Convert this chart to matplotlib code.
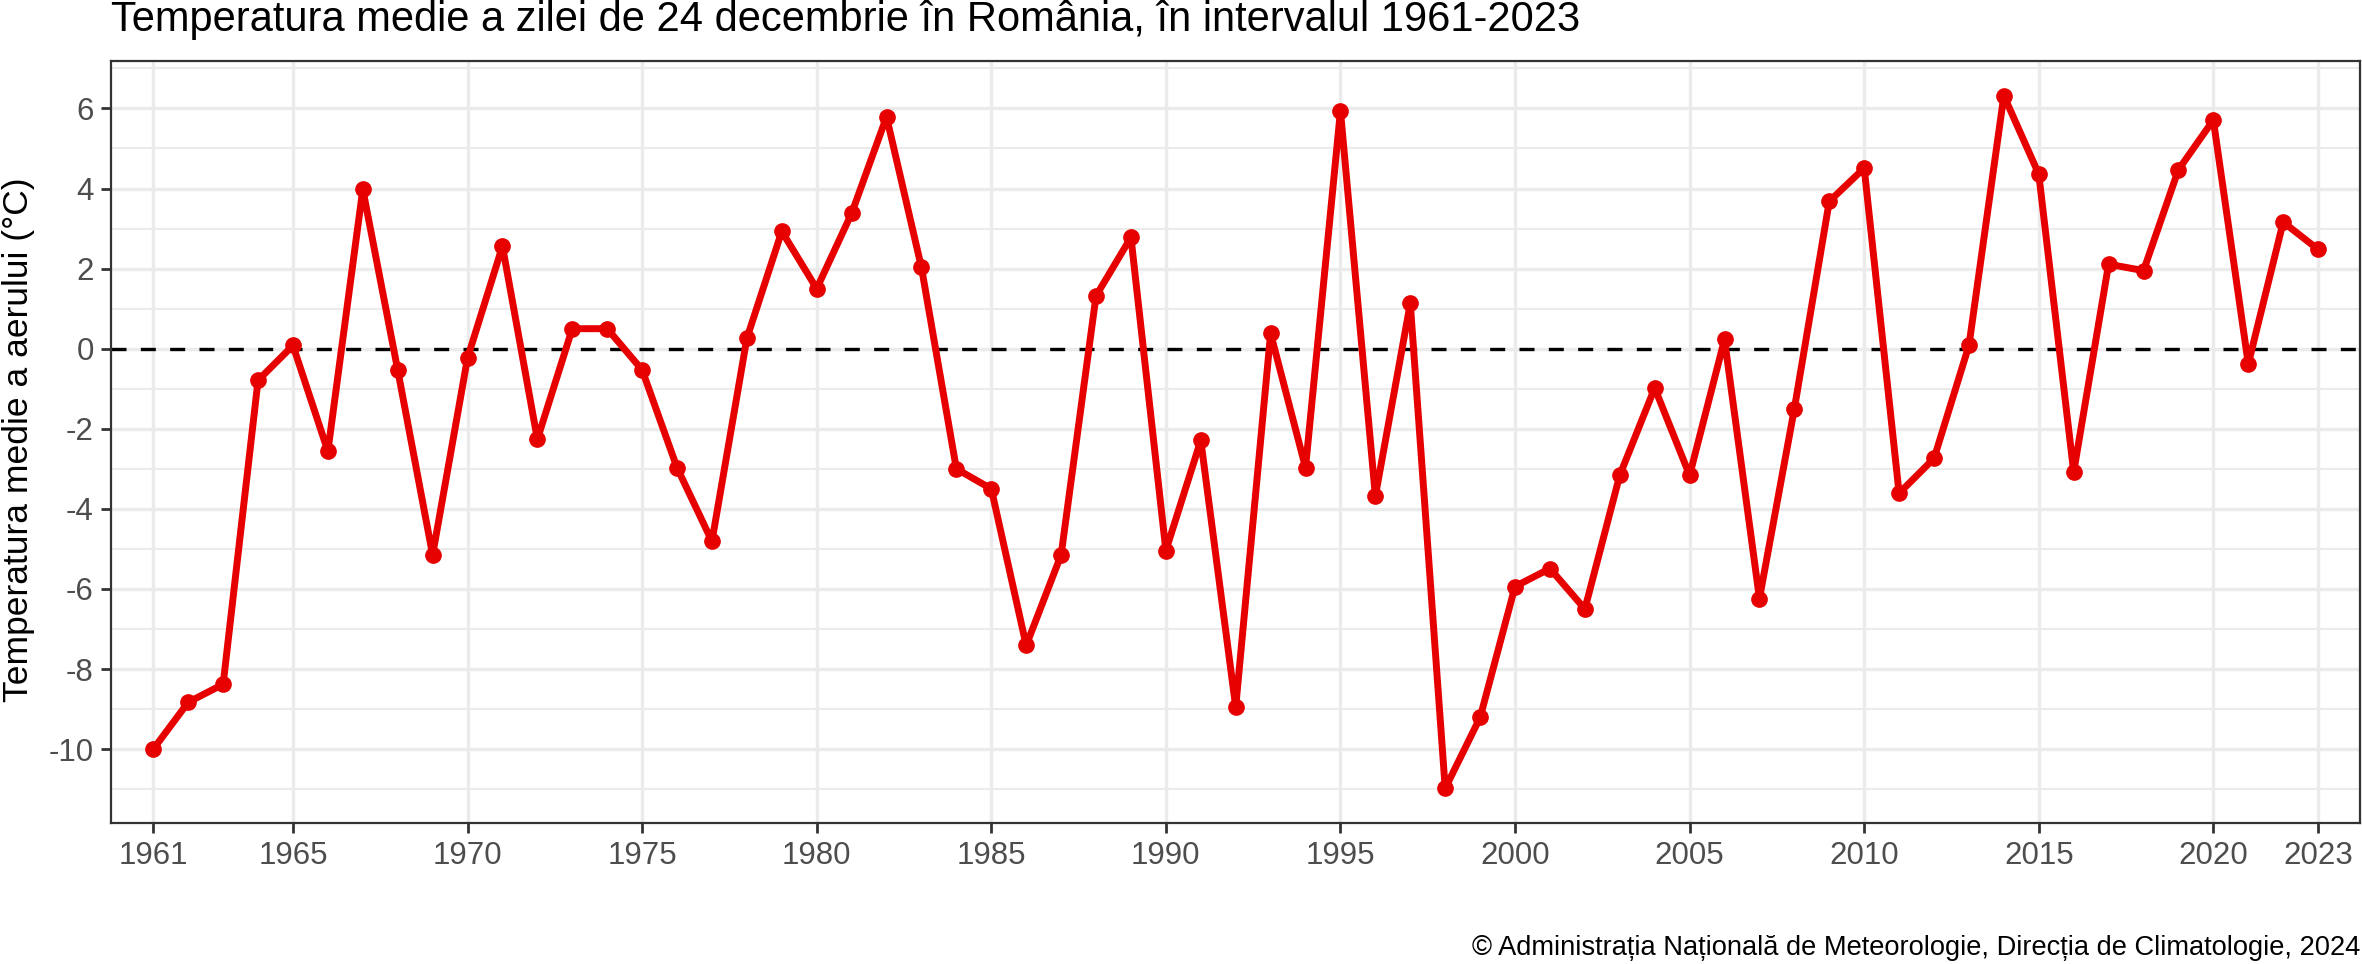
import matplotlib
matplotlib.use("Agg")
import matplotlib.pyplot as plt
import numpy as np

years = list(range(1961, 2024))
temps = [-10.0, -8.83, -8.38, -0.79, 0.08, -2.56, 3.98, -0.53, -5.15, -0.23,
         2.56, -2.26, 0.50, 0.50, -0.53, -2.97, -4.81, 0.26, 2.93, 1.50,
         3.38, 5.79, 2.03, -3.00, -3.50, -7.41, -5.15, 1.32, 2.78, -5.04,
         -2.29, -8.95, 0.38, -2.97, 5.94, -3.68, 1.13, -10.98, -9.21, -5.94,
         -5.49, -6.50, -3.16, -0.98, -3.16, 0.23, -6.24, -1.50, 3.68, 4.51,
         -3.61, -2.74, 0.08, 6.32, 4.36, -3.08, 2.11, 1.95, 4.47, 5.71,
         -0.38, 3.16, 2.48]
x_ticks = [1961, 1965, 1970, 1975, 1980, 1985, 1990, 1995, 2000, 2005, 2010, 2015, 2020, 2023]
y_ticks = [-10, -8, -6, -4, -2, 0, 2, 4, 6]

title = "Temperatura medie a zilei de 24 decembrie în România, în intervalul 1961-2023"
ylabel = "Temperatura medie a aerului (°C)"
caption = "© Administrația Națională de Meteorologie, Direcția de Climatologie, 2024"

plt.rcParams['font.family'] = ['Liberation Sans', 'DejaVu Sans']
plt.rcParams['axes.unicode_minus'] = False

W, H = 2362, 964
fig = plt.figure(figsize=(W / 100, H / 100), dpi=100)
ax = fig.add_axes([110.7 / W, 1 - 823 / H, (2360 - 110.7) / W, (823 - 61) / H])

red = "#E60000"
grid_c = "#EBEBEB"

ymin, ymax = min(temps), max(temps)
rng = ymax - ymin
ax.set_ylim(ymin - 0.05 * rng, ymax + 0.05 * rng)
ax.set_xlim(1961 - 1.22, 2023 + 1.2)

# minor y grid
for v in np.arange(-11, 8, 2):
    ax.axhline(v, color=grid_c, lw=1.5, zorder=0)
for v in y_ticks:
    ax.axhline(v, color=grid_c, lw=2.4, zorder=0)
for v in x_ticks:
    ax.axvline(v, color=grid_c, lw=2.4, zorder=0)

ax.axhline(0, color="black", lw=2.4, linestyle=(0, (4.5, 4.3)), zorder=2)
ax.plot(years, temps, color=red, lw=5.0, zorder=3, solid_joinstyle='round')
ax.plot(years, temps, 'o', color=red, markersize=11, zorder=4)

ax.set_xticks(x_ticks)
ax.set_xticklabels([str(v) for v in x_ticks])
ax.set_yticks(y_ticks)
ax.set_yticklabels([str(v) for v in y_ticks])
ax.tick_params(axis='both', length=7.2, width=2.0, color="#333333",
               labelcolor="#4D4D4D", labelsize=22.5)
ax.tick_params(axis='x', pad=6)
ax.tick_params(axis='y', pad=5)
for s in ax.spines.values():
    s.set_color("#333333")
    s.set_linewidth(1.6)

fig.text(19 / W, 1 - 440 / H, ylabel, rotation=90, ha='center', va='center',
         fontsize=25.5, color='black')
fig.text(110.7 / W, 1 - 31.5 / H, title, ha='left', va='baseline', fontsize=30, color='black')
fig.text(2360 / W, 1 - 955 / H, caption, ha='right', va='baseline', fontsize=19.6, color='black')

fig.savefig("out.png", dpi=100)
